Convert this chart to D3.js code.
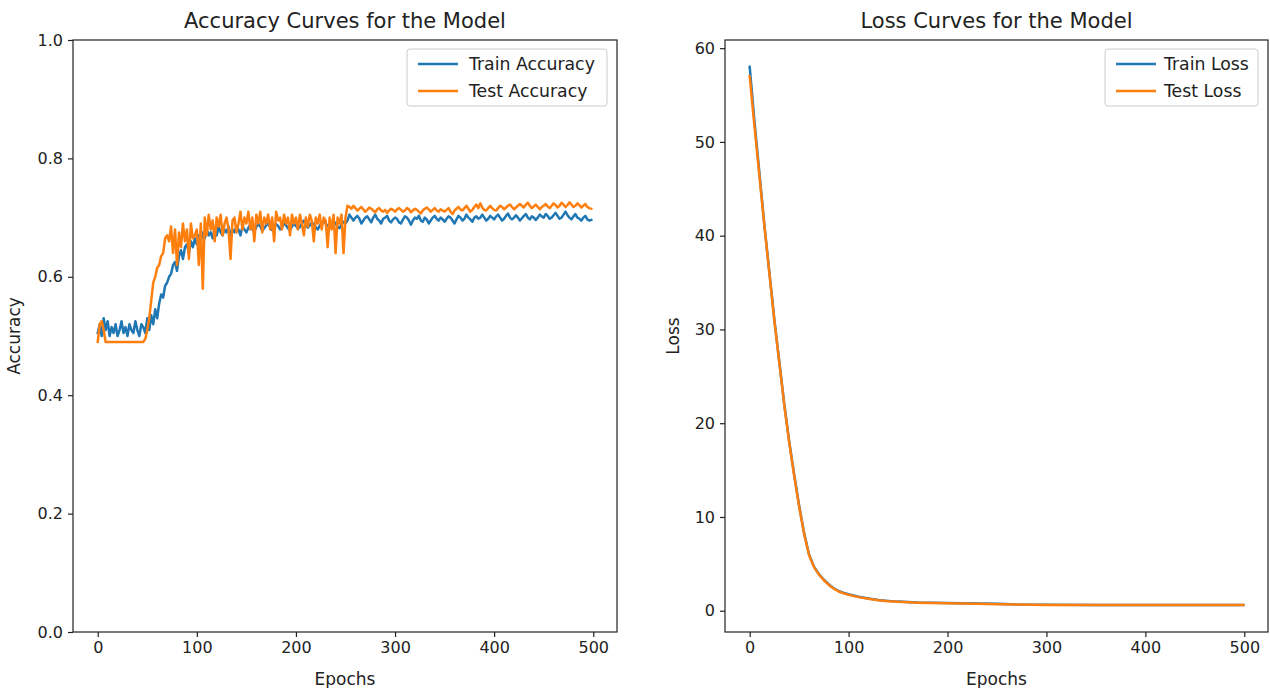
<!DOCTYPE html>
<html>
<head>
<meta charset="utf-8">
<script src="https://cdn.jsdelivr.net/npm/d3@7"></script>
<style>
  html, body { margin: 0; padding: 0; background: #fff; }
  svg { display: block; font-family: "DejaVu Sans", sans-serif; }
</style>
</head>
<body>
<svg id="chart" width="1270" height="688"></svg>
<script>
// ---------- DATA ----------
const accEpochStep = 2; // accuracy recorded every 2 epochs: 0,2,...,498
const trainAccuracy = [
  0.505,0.52,0.50,0.53,0.51,0.525,0.50,0.515,0.505,0.52,0.50,0.51,0.525,0.505,0.515,0.50,0.52,0.51,0.505,0.525,0.51,0.50,0.52,0.515,0.505,
  0.53,0.51,0.535,0.52,0.545,0.53,0.555,0.57,0.565,0.585,0.59,0.60,0.605,0.62,0.625,0.61,0.635,0.645,0.63,0.65,0.655,0.64,0.66,0.65,0.665,
  0.655,0.67,0.66,0.675,0.665,0.68,0.67,0.675,0.665,0.68,0.67,0.685,0.675,0.67,0.68,0.675,0.685,0.67,0.68,0.675,0.685,0.68,0.67,0.685,0.68,
  0.675,0.683,0.688,0.68,0.676,0.684,0.69,0.685,0.678,0.682,0.687,0.69,0.684,0.679,0.683,0.689,0.686,0.68,0.684,0.69,0.687,0.682,0.678,0.685,0.69,
  0.686,0.681,0.684,0.69,0.695,0.688,0.683,0.687,0.692,0.689,0.684,0.68,0.686,0.692,0.695,0.69,0.686,0.683,0.689,0.694,0.69,0.685,0.682,0.688,0.693,
  0.69,0.695,0.705,0.70,0.695,0.70,0.703,0.698,0.69,0.695,0.70,0.702,0.697,0.692,0.70,0.705,0.698,0.695,0.69,0.698,0.70,0.703,0.695,0.692,0.697,
  0.70,0.698,0.692,0.69,0.697,0.702,0.70,0.695,0.688,0.695,0.70,0.698,0.703,0.695,0.693,0.70,0.697,0.69,0.695,0.70,0.703,0.698,0.695,0.70,0.697,
  0.693,0.698,0.702,0.70,0.695,0.69,0.697,0.703,0.70,0.695,0.698,0.705,0.70,0.697,0.693,0.70,0.702,0.698,0.70,0.705,0.70,0.695,0.698,0.703,0.70,
  0.697,0.702,0.705,0.70,0.695,0.698,0.703,0.707,0.70,0.697,0.70,0.704,0.70,0.695,0.699,0.703,0.706,0.70,0.697,0.702,0.70,0.696,0.70,0.705,0.702,
  0.70,0.706,0.703,0.698,0.70,0.704,0.708,0.703,0.698,0.70,0.705,0.71,0.704,0.70,0.697,0.702,0.706,0.70,0.698,0.695,0.70,0.703,0.697,0.695,0.696
];
const testAccuracy = [
  0.49,0.52,0.525,0.51,0.49,0.49,0.49,0.49,0.49,0.49,0.49,0.49,0.49,0.49,0.49,0.49,0.49,0.49,0.49,0.49,0.49,0.49,0.49,0.49,0.495,
  0.51,0.53,0.56,0.59,0.60,0.615,0.62,0.635,0.64,0.665,0.67,0.66,0.685,0.64,0.68,0.62,0.675,0.65,0.69,0.66,0.68,0.63,0.69,0.665,0.67,
  0.68,0.62,0.69,0.58,0.70,0.67,0.705,0.68,0.695,0.66,0.70,0.685,0.705,0.67,0.69,0.70,0.68,0.63,0.695,0.70,0.675,0.69,0.71,0.68,0.70,
  0.69,0.71,0.68,0.70,0.66,0.705,0.69,0.71,0.675,0.70,0.69,0.705,0.68,0.70,0.66,0.71,0.695,0.70,0.68,0.705,0.69,0.70,0.67,0.705,0.69,
  0.70,0.68,0.705,0.69,0.67,0.70,0.685,0.705,0.695,0.66,0.70,0.69,0.705,0.68,0.70,0.695,0.65,0.70,0.68,0.705,0.64,0.70,0.69,0.705,0.64,
  0.70,0.72,0.718,0.715,0.72,0.716,0.712,0.715,0.718,0.714,0.71,0.713,0.717,0.715,0.712,0.709,0.714,0.716,0.712,0.71,0.713,0.708,0.712,0.715,0.713,
  0.71,0.714,0.716,0.713,0.71,0.712,0.716,0.714,0.709,0.712,0.715,0.713,0.71,0.707,0.712,0.715,0.717,0.714,0.71,0.713,0.716,0.712,0.71,0.714,0.712,
  0.71,0.713,0.716,0.71,0.706,0.712,0.715,0.718,0.714,0.712,0.716,0.72,0.715,0.71,0.713,0.718,0.722,0.716,0.724,0.717,0.713,0.712,0.716,0.72,0.716,
  0.713,0.712,0.716,0.72,0.718,0.714,0.717,0.72,0.722,0.718,0.714,0.717,0.72,0.723,0.72,0.717,0.722,0.725,0.72,0.716,0.719,0.722,0.718,0.714,0.718,
  0.72,0.723,0.719,0.716,0.72,0.724,0.721,0.717,0.72,0.725,0.722,0.718,0.721,0.726,0.722,0.718,0.72,0.724,0.721,0.717,0.72,0.723,0.718,0.716,0.715
];

const lossEpochs = [0,5,10,15,20,25,30,35,40,45,50,55,60,65,70,75,80,85,90,95,100,110,120,130,140,150,170,200,230,250,270,300,350,400,450,499];
const trainLoss  = [58.0,52.0,46.5,41.0,36.0,31.0,26.5,22.0,18.0,14.5,11.2,8.3,6.0,4.7,3.9,3.3,2.8,2.4,2.1,1.9,1.75,1.5,1.3,1.15,1.05,0.97,0.88,0.82,0.78,0.74,0.66,0.63,0.62,0.61,0.61,0.60];
const testLoss   = [57.0,51.5,46.2,40.9,35.9,30.9,26.4,21.9,17.9,14.4,11.1,8.2,5.95,4.65,3.85,3.25,2.75,2.35,2.05,1.85,1.7,1.45,1.27,1.12,1.02,0.95,0.86,0.79,0.74,0.70,0.65,0.62,0.61,0.61,0.60,0.60];

const xTicks = [0,100,200,300,400,500];
const accTicks = [0.0,0.2,0.4,0.6,0.8,1.0];
const lossTicks = [0,10,20,30,40,50,60];

const titles = ["Accuracy Curves for the Model", "Loss Curves for the Model"];
const accLegend = ["Train Accuracy", "Test Accuracy"];
const lossLegend = ["Train Loss", "Test Loss"];

// ---------- DRAW ----------
const C_TRAIN = "#1f77b4", C_TEST = "#ff7f0e";
const svg = d3.select("#chart");

function panel(opts) {
  const {left, right, top, bottom, xDomain, yDomain, yTicks, yFmt, series, title, ylabel, legend, legendBox} = opts;
  const x = d3.scaleLinear().domain(xDomain).range([left, right]);
  const y = d3.scaleLinear().domain(yDomain).range([bottom, top]);
  const g = svg.append("g");

  // lines
  const line = d3.line().x(d => x(d[0])).y(d => y(d[1]));
  series.forEach(s => {
    g.append("path").datum(s.data).attr("d", line)
      .attr("fill", "none").attr("stroke", s.color).attr("stroke-width", 2.5)
      .attr("stroke-linejoin", "round").attr("stroke-linecap", "square");
  });

  // axes
  const xAxis = d3.axisBottom(x).tickValues(xTicks).tickSize(5).tickPadding(5).tickFormat(d3.format("d"));
  const yAxis = d3.axisLeft(y).tickValues(yTicks).tickSize(5).tickPadding(5).tickFormat(yFmt);
  const gx = g.append("g").attr("transform", `translate(0,${bottom})`).call(xAxis);
  const gy = g.append("g").attr("transform", `translate(${left},0)`).call(yAxis);
  [gx, gy].forEach(a => {
    a.select(".domain").remove();
    a.selectAll(".tick line").attr("stroke", "#222").attr("stroke-width", 1.2);
    a.selectAll(".tick text").attr("fill", "#222").style("font-size", "16px").style("font-family", "DejaVu Sans");
  });

  // frame
  g.append("rect").attr("x", left).attr("y", top).attr("width", right - left).attr("height", bottom - top)
    .attr("fill", "none").attr("stroke", "#222").attr("stroke-width", 1.2);

  // title & labels
  g.append("text").attr("x", (left + right) / 2).attr("y", top - 12).attr("text-anchor", "middle")
    .style("font-size", "21px").attr("fill", "#222").text(title);
  g.append("text").attr("x", (left + right) / 2).attr("y", bottom + 53).attr("text-anchor", "middle")
    .style("font-size", "17px").attr("fill", "#222").text("Epochs");
  g.append("text").attr("transform", `translate(${opts.ylabelX},${(top + bottom) / 2}) rotate(-90)`)
    .attr("text-anchor", "middle").style("font-size", "17px").attr("fill", "#222").text(ylabel);

  // legend
  const lg = g.append("g");
  lg.append("rect").attr("x", legendBox.x).attr("y", legendBox.y).attr("width", legendBox.w).attr("height", legendBox.h)
    .attr("rx", 3).attr("fill", "#fff").attr("fill-opacity", 0.8).attr("stroke", "#cccccc").attr("stroke-width", 1);
  legend.forEach((name, i) => {
    const yy = legendBox.y + 15 + i * 27;
    lg.append("line").attr("x1", legendBox.x + 11).attr("x2", legendBox.x + 51).attr("y1", yy).attr("y2", yy)
      .attr("stroke", series[i].color).attr("stroke-width", 2.5);
    lg.append("text").attr("x", legendBox.x + legendBox.tx).attr("y", yy + 6).style("font-size", "17.3px").attr("fill", "#222").text(name);
  });
}

const accTrainPts = trainAccuracy.map((v, i) => [i * accEpochStep, v]);
const accTestPts = testAccuracy.map((v, i) => [i * accEpochStep, v]);
const lossTrainPts = lossEpochs.map((e, i) => [e, trainLoss[i]]);
const lossTestPts = lossEpochs.map((e, i) => [e, testLoss[i]]);

panel({
  left: 73, right: 617, top: 40, bottom: 632,
  xDomain: [-24.95, 523.95], yDomain: [0, 1],
  yTicks: accTicks, yFmt: d3.format(".1f"),
  series: [{data: accTrainPts, color: C_TRAIN}, {data: accTestPts, color: C_TEST}],
  title: titles[0], ylabel: "Accuracy", ylabelX: 20,
  legend: accLegend, legendBox: {x: 407, y: 49, w: 200, h: 57, tx: 62}
});

panel({
  left: 725, right: 1268, top: 40, bottom: 632,
  xDomain: [-24.95, 523.95], yDomain: [-2.27, 60.87],
  yTicks: lossTicks, yFmt: d3.format("d"),
  series: [{data: lossTrainPts, color: C_TRAIN}, {data: lossTestPts, color: C_TEST}],
  title: titles[1], ylabel: "Loss", ylabelX: 679,
  legend: lossLegend, legendBox: {x: 1105, y: 49, w: 153, h: 57, tx: 59}
});
</script>
</body>
</html>
